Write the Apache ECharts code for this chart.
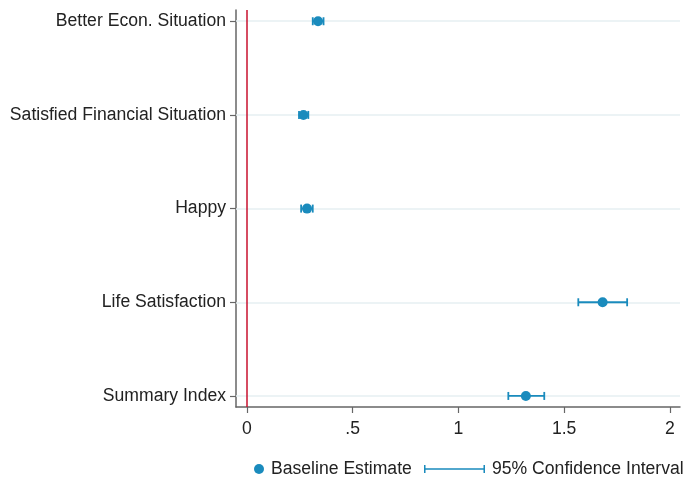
<!DOCTYPE html>
<html>
<head>
<meta charset="utf-8">
<script src="https://cdn.jsdelivr.net/npm/echarts@6/dist/echarts.min.js"></script>
<style>
  html, body { margin: 0; padding: 0; background: #fff; }
  #chart { width: 684px; height: 477px; }
</style>
</head>
<body>
<div id="chart"></div>
<script>
// Outcomes, listed top to bottom
const outcomes = ['Better Econ. Situation', 'Satisfied Financial Situation', 'Happy', 'Life Satisfaction', 'Summary Index'];
const estimates = [0.336, 0.267, 0.284, 1.682, 1.319];
const ciLower = [0.311, 0.246, 0.256, 1.567, 1.236];
const ciUpper = [0.362, 0.290, 0.311, 1.798, 1.406];
const xTicks = [0, 0.5, 1, 1.5, 2];
const xTickLabels = ['0', '.5', '1', '1.5', '2'];

const blue = '#1a8bbd';
const n = outcomes.length;
// row position: first outcome at the top
const rowPos = i => n - i;
const yTicks = outcomes.map((_, i) => rowPos(i));

const pointData = estimates.map((v, i) => [v, rowPos(i)]);
const ciData = ciLower.map((lo, i) => [lo, ciUpper[i], rowPos(i)]);

const font = 'Liberation Sans, Arial, Helvetica, sans-serif';
const fs = 17.6;

const chart = echarts.init(document.getElementById('chart'), null, { renderer: 'canvas' });
chart.setOption({
  animation: false,
  textStyle: { fontFamily: font },
  grid: { left: 236, right: 4, top: 10, bottom: 70, containLabel: false },
  xAxis: {
    type: 'value',
    min: -0.052,
    max: 2.048,
    axisLine: { show: true, onZero: false, lineStyle: { color: '#666', width: 1.5 } },
    axisTick: { show: true, length: 6, lineStyle: { color: '#666', width: 1.2 }, customValues: xTicks },
    axisLabel: {
      customValues: xTicks,
      color: '#222', fontSize: fs, margin: 13, fontFamily: font,
      formatter: v => xTickLabels[xTicks.indexOf(v)] ?? ''
    },
    splitLine: { show: false }
  },
  yAxis: {
    type: 'value',
    min: 0.882,
    max: 5.12,
    axisLine: { show: true, onZero: false, lineStyle: { color: '#666', width: 1.5 } },
    axisTick: { show: true, length: 6, lineStyle: { color: '#666', width: 1.2 }, customValues: yTicks },
    axisLabel: {
      customValues: yTicks,
      color: '#222', fontSize: fs, margin: 10, fontFamily: font,
      formatter: v => outcomes[n - Math.round(v)] ?? ''
    },
    splitLine: { show: false }
  },
  legend: [
    {
      data: [{ name: 'Baseline Estimate', icon: 'circle' }],
      left: 249, top: 455,
      itemWidth: 10, itemHeight: 10, itemGap: 5,
      textStyle: { fontSize: fs, color: '#222', fontFamily: font, padding: [0, 0, 0, 2] },
      selectedMode: false
    },
    {
      data: [{ name: '95% Confidence Interval', icon: 'path://M0,0h1.5v8h-1.5z M0,3.3h60v1.4h-60z M58.5,0h1.5v8h-1.5z' }],
      left: 419, top: 455,
      itemWidth: 61, itemHeight: 9, itemGap: 5,
      textStyle: { fontSize: fs, color: '#222', fontFamily: font, padding: [0, 0, 0, 2] },
      selectedMode: false
    }
  ],
  series: [
    {
      // horizontal grid lines and the zero reference line
      type: 'line',
      data: [],
      silent: true,
      z: 1,
      markLine: {
        symbol: 'none',
        silent: true,
        z: 1,
        label: { show: false },
        data: yTicks.map(y => ({ yAxis: y, lineStyle: { color: '#e6eff2', width: 1.5, type: 'solid' } }))
          .concat([{ xAxis: 0, lineStyle: { color: '#c8102e', width: 1.5, type: 'solid' } }])
      }
    },
    {
      name: '95% Confidence Interval',
      type: 'custom',
      itemStyle: { color: blue },
      data: ciData,
      encode: { x: [0, 1], y: 2 },
      renderItem: (params, api) => {
        const y = api.value(2);
        const a = api.coord([api.value(0), y]);
        const b = api.coord([api.value(1), y]);
        const cap = 4;
        const style = { stroke: blue, lineWidth: 1.8, fill: 'none' };
        return {
          type: 'group',
          children: [
            { type: 'line', shape: { x1: a[0], y1: a[1], x2: b[0], y2: b[1] }, style },
            { type: 'line', shape: { x1: a[0], y1: a[1] - cap, x2: a[0], y2: a[1] + cap }, style },
            { type: 'line', shape: { x1: b[0], y1: b[1] - cap, x2: b[0], y2: b[1] + cap }, style }
          ]
        };
      },
      z: 3
    },
    {
      name: 'Baseline Estimate',
      type: 'scatter',
      data: pointData,
      symbol: 'circle',
      symbolSize: 10,
      itemStyle: { color: blue, opacity: 1 },
      z: 4
    }
  ]
});
</script>
</body>
</html>
